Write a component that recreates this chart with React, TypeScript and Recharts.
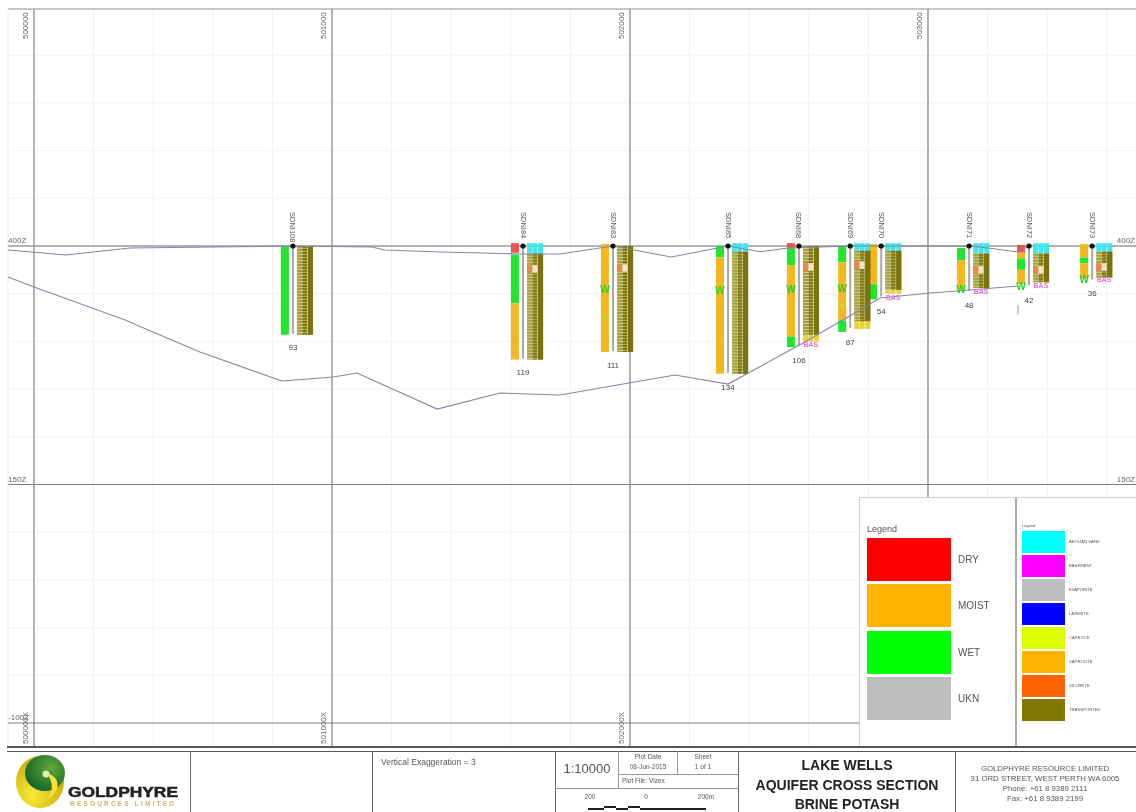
import { ComposedChart, Line, XAxis, YAxis, ReferenceLine } from "recharts";

// section axes: easting (m) and RL (m)
const EAST_DOMAIN = [499886, 503698];
const Z_DOMAIN = [-193.3, 657.9];
const MAJOR_EAST = [500000, 501000, 502000, 503000];
const MINOR_EAST = [500200, 500400, 500600, 500800, 501200, 501400, 501600, 501800, 502200, 502400, 502600, 502800, 503200, 503400, 503600];
const MAJOR_Z = [400, 150, -100];
const MINOR_Z = [600, 550, 500, 450, 350, 300, 250, 200, 100, 50, 0, -50];
const TOP_EAST_LABELS = ["500000", "501000", "502000", "503000"];
const BOTTOM_EAST_LABELS = ["500000X", "501000X", "502000X"];
const LEFT_Z_LABELS = ["400Z", "150Z", "-100Z"];
const RIGHT_Z_LABELS = ["400Z", "150Z"];

const HOLE_NAMES = ["SDNI108", "SDNI84", "SDNI83", "SDNI85", "SDNI68", "SDNI69", "SDNI70", "SDNI71", "SDNI72", "SDNI73"];
const HOLE_EAST = [500869, 501641, 501943, 502329, 502567, 502739, 502843, 503138, 503339, 503551];
const HOLE_DEPTH = [93, 119, 111, 134, 106, 87, 54, 48, 42, 36];
const DEPTH_LABEL_Z = [291, 265, 272, 249, 277, 296, 329, 335, 340, 348];

const SURFACE_LINE = [
  [499913, 395.8], [500107, 390.6], [500322, 397.9], [500869, 400], [501134, 399], [501178, 395.8],
  [501363, 393.7], [501641, 391.6], [501765, 391.6], [501943, 400], [502138, 388.5], [502329, 400],
  [502437, 394], [502531, 398], [502739, 400], [503138, 400], [503202, 398], [503302, 393.7], [503339, 400],
];
const BASE_LINE = [
  [499913, 367.5], [500000, 357], [500306, 322.4], [500399, 309.9], [500557, 288.9], [500832, 258.5],
  [501004, 262.7], [501084, 266.9], [501353, 229.1], [501564, 245.9], [501765, 243.8], [502151, 264.8],
  [502329, 255.3], [502581, 298.3], [502772, 332.9], [502839, 345.5], [503007, 350.7], [503098, 352.8], [503302, 358.1],
];
const STRAY_TICK = [[503302, 338], [503302, 328]];

const MOISTURE_COLORS: Record<string, string> = { dry: "#f0524f", moist: "#f5b71e", wet: "#22e62e" };
// hole index, from depth, to depth, class
const MOISTURE: [number, number, number, string][] = [
  [0, 0, 93, "wet"],
  [1, -3, 7, "dry"], [1, 9, 60, "wet"], [1, 60, 119, "moist"],
  [2, -2, 111, "moist"],
  [3, 0, 12, "wet"], [3, 12, 134, "moist"],
  [4, -3, 2, "dry"], [4, 2, 20, "wet"], [4, 20, 95, "moist"], [4, 95, 106, "wet"],
  [5, 0, 17, "wet"], [5, 17, 78, "moist"], [5, 78, 90, "wet"],
  [6, -2, 40, "moist"], [6, 40, 56, "wet"],
  [7, 2, 15, "wet"], [7, 15, 46, "moist"],
  [8, -1, 7, "dry"], [8, 7, 13, "moist"], [8, 13, 25, "wet"], [8, 25, 40, "moist"],
  [9, -2, 12, "moist"], [9, 12, 18, "wet"], [9, 18, 34, "moist"],
];
// hole index, depth of a "W" water strike mark, faint
const WATER_MARKS: [number, number, boolean][] = [
  [2, 46, false], [2, 74, true], [3, 47, false], [4, 46, false], [5, 45, false], [5, 62, true],
  [7, 46, false], [8, 42, false], [9, 35, false],
];
// hole index, depth at which the hole reaches the aeolian cover base, transported base, saprolite base
const COVER_BASE = [0, 8, 0, 6, 0, 5, 5, 8, 8, 6];
const TRANSPORTED_BASE = [93, 119, 111, 134, 93, 79, 46, 44, 38, 33];
const SAPROLITE_BASE = [0, 0, 0, 0, 100, 87, 50, 0, 0, 0];
const SILCRETE_DEPTH = [0, 24, 23, 0, 22, 20, 0, 25, 25, 22];
const BAS_HOLES = [4, 6, 7, 8, 9];
const BAS_DEPTH = [104, 54, 48, 42, 36];

const MOISTURE_OFFSET = -27;
const COLUMN_OFFSETS = [22, 40, 59];
const COLUMN_UNDER = ["#d2cc8c", "#aaa44a", "#78730f"];
const COLUMN_COLORS = ["#a49d40", "#817b16", "#78730f"];

const LEGEND_MOISTURE = ["DRY", "MOIST", "WET", "UKN"];
const LEGEND_MOISTURE_COLORS = ["#ff0000", "#ffb400", "#00ff00", "#bebebe"];
const LEGEND_LITHO = ["AEOLIAN SAND", "BASEMENT", "EVAPORITE", "LATERITE", "CAPROCK", "SAPROLITE", "SILCRETE", "TRANSPORTED"];
const LEGEND_LITHO_COLORS = ["#00ffff", "#ff00ff", "#bebebe", "#0000ff", "#dcff00", "#ffb400", "#ff6400", "#807800"];

const FONT = "'Liberation Sans', Arial, sans-serif";

type Pt = { e: number; z: number; label?: string };

const pts = (rows: number[][]): Pt[] => rows.map(([e, z]) => ({ e, z }));

function textDot(size: number, fill: string, rotate = 0, dx = 0, dy = 0, bold = false, anchor = "middle") {
  return (p: any) => {
    const x = p.cx + dx;
    const y = p.cy + dy;
    return (
      <text
        key={`${p.index}-${p.payload.label}`}
        x={x}
        y={y}
        fontSize={size}
        fontFamily={FONT}
        fontWeight={bold ? 700 : 400}
        fill={fill}
        textAnchor={anchor}
        transform={rotate ? `rotate(${rotate} ${x} ${y})` : undefined}
      >
        {p.payload.label}
      </text>
    );
  };
}

function segment(key: string, e: number, from: number, to: number, color: string, width: number, dash?: string) {
  return (
    <Line
      key={key}
      data={[{ e, z: from }, { e, z: to }]}
      dataKey="z"
      stroke={color}
      strokeWidth={width}
      strokeDasharray={dash}
      strokeLinecap="butt"
      dot={false}
      activeDot={false}
      legendType="none"
      isAnimationActive={false}
    />
  );
}

function labels(key: string, data: Pt[], dot: any) {
  return (
    <Line
      key={key}
      data={data}
      dataKey="z"
      stroke="none"
      dot={dot}
      activeDot={false}
      legendType="none"
      isAnimationActive={false}
    />
  );
}

function holeSegments() {
  const out: any[] = [];
  MOISTURE.forEach(([h, from, to, cls], i) => {
    out.push(segment(`m${i}`, HOLE_EAST[h] + MOISTURE_OFFSET, 400 - from, 400 - to, MOISTURE_COLORS[cls], 8));
  });
  HOLE_EAST.forEach((e, h) => {
    out.push(segment(`t${h}`, e, 400, 400 - HOLE_DEPTH[h] + 1, "#a8a8a8", 2));
    COLUMN_OFFSETS.forEach((off, c) => {
      const cx = e + off;
      if (COVER_BASE[h] > 0) {
        out.push(segment(`a${h}${c}`, cx, 403, 400 - COVER_BASE[h], "#3fe6ea", 5));
      }
      const start = 400 - Math.max(COVER_BASE[h], 0);
      const end = 400 - TRANSPORTED_BASE[h];
      out.push(segment(`u${h}${c}`, cx, start, end, COLUMN_UNDER[c], 5));
      out.push(segment(`o${h}${c}`, cx, start, end, COLUMN_COLORS[c], 5, c < 2 ? "2 1" : undefined));
      if (SAPROLITE_BASE[h] > 0) {
        out.push(segment(`s${h}${c}`, cx, end, 400 - SAPROLITE_BASE[h], "#e8d23a", 5));
      }
      if (SILCRETE_DEPTH[h] > 0 && c < 2) {
        out.push(segment(`i${h}${c}`, cx, 400 - SILCRETE_DEPTH[h] + 4, 400 - SILCRETE_DEPTH[h] - 4, c === 0 ? "#e8894a" : "#f4e3c4", 5));
      }
    });
  });
  return out;
}

function Section() {
  const topZ = 648.4;
  const botZ = -124;
  const leftE = 499913;
  const rightE = EAST_DOMAIN[1];
  return (
    <ComposedChart width={1136} height={812} margin={{ top: 0, right: 0, bottom: 0, left: 0 }}>
      <XAxis type="number" dataKey="e" domain={EAST_DOMAIN} allowDataOverflow hide />
      <YAxis type="number" dataKey="z" domain={Z_DOMAIN} allowDataOverflow hide />

      {MINOR_EAST.map((e) => (
        <ReferenceLine key={e} segment={[{ x: e, y: topZ }, { x: e, y: botZ }]} stroke="#f0f0f0" strokeWidth={1} />
      ))}
      {MINOR_Z.map((z) => (
        <ReferenceLine key={z} segment={[{ x: leftE, y: z }, { x: rightE, y: z }]} stroke="#f3f3f3" strokeWidth={1} />
      ))}
      <ReferenceLine segment={[{ x: leftE, y: topZ }, { x: rightE, y: topZ }]} stroke="#b5b5b5" strokeWidth={1.5} />
      <ReferenceLine segment={[{ x: leftE, y: topZ }, { x: leftE, y: botZ }]} stroke="#eeeeee" strokeWidth={1} />
      {MAJOR_EAST.map((e) => (
        <ReferenceLine key={e} segment={[{ x: e, y: topZ }, { x: e, y: botZ }]} stroke="#929292" strokeWidth={1.4} />
      ))}
      {MAJOR_Z.map((z) => (
        <ReferenceLine key={z} segment={[{ x: leftE, y: z }, { x: rightE, y: z }]} stroke={z === 400 ? "#9a9a9a" : "#808080"} strokeWidth={z === 400 ? 1.6 : 1} />
      ))}

      {holeSegments()}

      <Line data={pts(SURFACE_LINE)} dataKey="z" stroke="#8486a8" strokeWidth={1.1} dot={false} activeDot={false} legendType="none" isAnimationActive={false} />
      <Line data={pts(BASE_LINE)} dataKey="z" stroke="#8486a8" strokeWidth={1.1} dot={false} activeDot={false} legendType="none" isAnimationActive={false} />
      <Line data={pts(STRAY_TICK)} dataKey="z" stroke="#999" strokeWidth={1} dot={false} activeDot={false} legendType="none" isAnimationActive={false} />

      {labels("marks", WATER_MARKS.filter((m) => !m[2]).map(([h, d]) => ({ e: HOLE_EAST[h] + MOISTURE_OFFSET, z: 400 - d, label: "W" })), textDot(10, "#20d82a", 0, 0, 3.5, true))}
      {labels("faint", WATER_MARKS.filter((m) => m[2]).map(([h, d]) => ({ e: HOLE_EAST[h] + MOISTURE_OFFSET, z: 400 - d, label: "V" })), textDot(8, "#a6e64a", 0, 0, 3, true))}
      {labels("bas", BAS_HOLES.map((h, i) => ({ e: HOLE_EAST[h] + COLUMN_OFFSETS[1], z: 400 - BAS_DEPTH[i], label: "BAS" })), textDot(7, "#e86fd0", 0, 0, 2, true))}

      <Line
        data={HOLE_EAST.map((e) => ({ e, z: 400 }))}
        dataKey="z"
        stroke="none"
        dot={{ r: 2.6, fill: "#111", stroke: "none" }}
        activeDot={false}
        legendType="none"
        isAnimationActive={false}
      />
      {labels("names", HOLE_EAST.map((e, i) => ({ e, z: 400, label: HOLE_NAMES[i] })), textDot(7.5, "#555", 90, -2.5, -34, false, "start"))}
      {labels("depths", HOLE_EAST.map((e, i) => ({ e, z: DEPTH_LABEL_Z[i], label: String(HOLE_DEPTH[i]) })), textDot(8, "#444"))}

      {labels("top", MAJOR_EAST.map((e, i) => ({ e, z: topZ, label: TOP_EAST_LABELS[i] })), textDot(8, "#666", -90, -6, 30, false, "start"))}
      {labels("bottom", BOTTOM_EAST_LABELS.map((label, i) => ({ e: MAJOR_EAST[i], z: botZ, label })), textDot(8, "#666", -90, -6, -2, false, "start"))}
      {labels("left", MAJOR_Z.map((z, i) => ({ e: leftE, z, label: LEFT_Z_LABELS[i] })), textDot(8, "#666", 0, 0, -3, false, "start"))}
      {labels("right", RIGHT_Z_LABELS.map((label, i) => ({ e: rightE, z: MAJOR_Z[i], label })), textDot(8, "#666", 0, -1, -3, false, "end"))}
    </ComposedChart>
  );
}

function T({ x, y, size, children, center, bold, color }: any) {
  return (
    <div
      style={{
        position: "absolute",
        left: center ? x - 150 : x,
        width: center ? 300 : undefined,
        top: y - size * 0.6,
        fontSize: size,
        lineHeight: `${size * 1.2}px`,
        fontFamily: FONT,
        fontWeight: bold ? 700 : 400,
        color: color || "#555",
        textAlign: center ? "center" : "left",
        whiteSpace: "nowrap",
      }}
    >
      {children}
    </div>
  );
}

function Box({ x, y, w, h, c }: any) {
  return <div style={{ position: "absolute", left: x, top: y, width: w, height: h, background: c }} />;
}

function Legends() {
  return (
    <>
      <Box x={859} y={498} w={277} h={248} c="#fff" />
      <Box x={859} y={497} w={277} h={1} c="#ccc" />
      <Box x={859} y={497} w={1} h={249} c="#ccc" />
      <Box x={1015} y={498} w={1.5} h={248} c="#aaa" />
      <T x={867} y={529} size={9}>Legend</T>
      {LEGEND_MOISTURE.map((name, i) => (
        <div key={name}>
          <Box x={867} y={538 + i * 46.3} w={84} h={43} c={LEGEND_MOISTURE_COLORS[i]} />
          <T x={958} y={560 + i * 46.3} size={10}>{name}</T>
        </div>
      ))}
      <T x={1022} y={526} size={4}>Legend</T>
      {LEGEND_LITHO.map((name, i) => (
        <div key={name}>
          <Box x={1022} y={531 + i * 24} w={43} h={22} c={LEGEND_LITHO_COLORS[i]} />
          <T x={1069} y={542 + i * 24} size={4.2}>{name}</T>
        </div>
      ))}
    </>
  );
}

function Logo() {
  return (
    <svg width={190} height={62} viewBox="0 0 190 62" style={{ position: "absolute", left: 0, top: 750 }}>
      <defs>
        <radialGradient id="gold" cx="0.35" cy="0.75" r="0.8">
          <stop offset="0" stopColor="#f6ea3a" />
          <stop offset="1" stopColor="#c7a400" />
        </radialGradient>
        <radialGradient id="green" cx="0.65" cy="0.35" r="0.8">
          <stop offset="0" stopColor="#5fa83a" />
          <stop offset="1" stopColor="#0d5a26" />
        </radialGradient>
      </defs>
      <ellipse cx={40} cy={32} rx={24} ry={26} fill="url(#gold)" />
      <ellipse cx={45} cy={23} rx={20} ry={18} fill="url(#green)" />
      <path d="M48 24 C60 26 62 42 46 50 C55 40 52 33 48 24 Z" fill="#f2e23a" />
      <circle cx={46} cy={24} r={3.5} fill="#dff0b0" />
      <text x={68} y={47} fontFamily="'Liberation Sans', Arial" fontWeight={700} fontSize={14} textLength={110} lengthAdjust="spacingAndGlyphs" stroke="#222" strokeWidth={0.5} fill="#222">
        GOLDPHYRE
      </text>
      <text x={70} y={55.5} fontFamily="'Liberation Sans', Arial" fontWeight={700} fontSize={6.5} textLength={104} fill="#c9b860">
        RESOURCES LIMITED
      </text>
    </svg>
  );
}

function TitleBlock() {
  const dividers = [190, 372, 555, 738, 955];
  return (
    <>
      <Box x={7} y={745.5} w={1129} h={2} c="#555" />
      <Box x={7} y={750.5} w={1129} h={1.5} c="#555" />
      {dividers.map((x) => (
        <Box key={x} x={x} y={751} w={1.3} h={61} c="#666" />
      ))}
      <Box x={618} y={751} w={1} h={37} c="#999" />
      <Box x={677} y={751} w={1} h={23} c="#999" />
      <Box x={618} y={774} w={120} h={1} c="#999" />
      <Box x={555} y={788} w={183} h={1} c="#999" />
      <Logo />
      <T x={381} y={762} size={8.5}>Vertical Exaggeration = 3</T>
      <T x={587} y={769} size={13} center>1:10000</T>
      <T x={648} y={757} size={6.5} center>Plot Date</T>
      <T x={648} y={767} size={6.5} center>08-Jun-2015</T>
      <T x={703} y={757} size={6.5} center>Sheet</T>
      <T x={703} y={767} size={6.5} center>1 of 1</T>
      <T x={622} y={781} size={6.5}>Plot File: Vizex</T>
      <T x={590} y={797} size={6.5} center>200</T>
      <T x={646} y={797} size={6.5} center>0</T>
      <T x={706} y={797} size={6.5} center>200m</T>
      <Box x={588} y={808} w={16} h={2} c="#222" />
      <Box x={604} y={806} w={12} h={2} c="#222" />
      <Box x={616} y={808} w={12} h={2} c="#222" />
      <Box x={628} y={806} w={12} h={2} c="#222" />
      <Box x={640} y={808} w={66} h={2} c="#222" />
      <T x={847} y={765} size={14} center bold color="#222">LAKE WELLS</T>
      <T x={847} y={785} size={14} center bold color="#222">AQUIFER CROSS SECTION</T>
      <T x={847} y={804} size={14} center bold color="#222">BRINE POTASH</T>
      <T x={1045} y={769} size={7.8} center>GOLDPHYRE RESOURCE LIMITED</T>
      <T x={1045} y={779} size={7.8} center>31 ORD STREET, WEST PERTH WA 6005</T>
      <T x={1045} y={789} size={7.8} center>Phone: +61 8 9389 2111</T>
      <T x={1045} y={799} size={7.8} center>Fax: +61 8 9389 2199</T>
    </>
  );
}

export default function App() {
  return (
    <div style={{ position: "absolute", left: 0, top: 0, width: 1136, height: 812, background: "#fff", overflow: "hidden", filter: "blur(0.7px)" }}>
      <Section />
      <Legends />
      <TitleBlock />
    </div>
  );
}
